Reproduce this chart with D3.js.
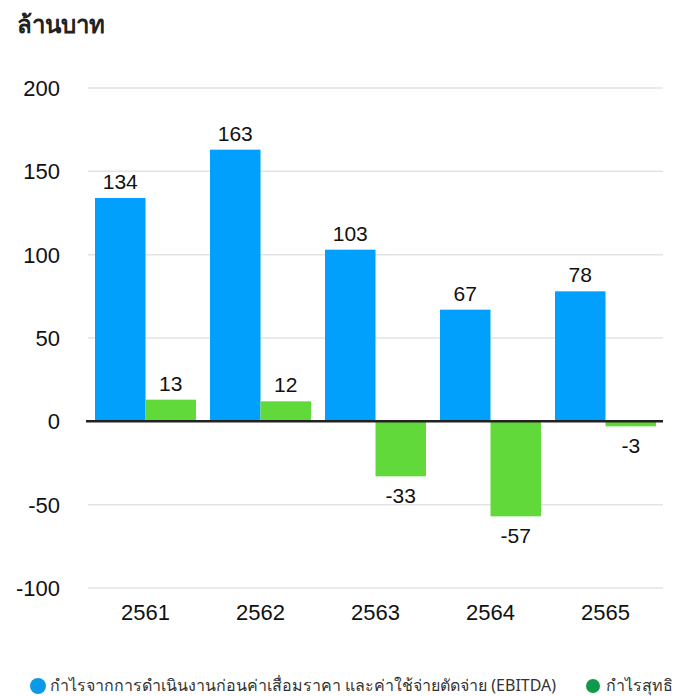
<!DOCTYPE html>
<html><head><meta charset="utf-8">
<script src="https://cdn.jsdelivr.net/npm/d3@7"></script>
<style>body{margin:0;background:#fff;}svg{display:block;}</style>
</head><body>
<script>
const years = ["2561","2562","2563","2564","2565"];
const ebitda = [134,163,103,67,78];
const netProfit = [13,12,-33,-57,-3];
const seriesNames = ["กำไรจากการดำเนินงานก่อนค่าเสื่อมราคา และค่าใช้จ่ายตัดจ่าย (EBITDA)","กำไรสุทธิ"];
const yTicks = [200,150,100,50,0,-50,-100];
const barColors = ["#00a0fc","#62d93a"];
const legendColors = ["#0b9ae8","#0e9a48"];

const W=684,H=696;
const svg=d3.select("body").append("svg").attr("width",W).attr("height",H);
const font="Liberation Sans, Arial, sans-serif";
const y=d3.scaleLinear().domain([-100,200]).range([588,88]);
const x0=d3.scaleBand().domain(years).range([88,663]);
const x1=d3.scaleBand().domain([0,1]).range([7,x0.bandwidth()-7]);

svg.append("text").attr("x",17).attr("y",33).attr("font-family","Noto Sans, sans-serif")
  .attr("font-weight","bold").attr("font-size",24).attr("fill","#222").text("ล้านบาท");

// grid
svg.append("g").selectAll("line").data(yTicks.filter(d=>d!==0)).join("line")
  .attr("x1",88).attr("x2",663).attr("y1",d=>y(d)).attr("y2",d=>y(d))
  .attr("stroke","#e3e3e3").attr("stroke-width",1.5);

// y labels
svg.append("g").selectAll("text").data(yTicks).join("text")
  .attr("x",60).attr("y",d=>y(d)+8).attr("text-anchor","end")
  .attr("font-family",font).attr("font-size",22).attr("fill","#111").text(d=>d);

const data=years.map((yr,i)=>({yr,vals:[ebitda[i],netProfit[i]]}));
const g=svg.append("g").selectAll("g").data(data).join("g").attr("transform",d=>`translate(${x0(d.yr)},0)`);
g.selectAll("rect").data(d=>d.vals.map((v,k)=>({v,k}))).join("rect")
  .attr("x",d=>x1(d.k)).attr("width",x1.bandwidth())
  .attr("y",d=>y(Math.max(0,d.v))).attr("height",d=>Math.abs(y(d.v)-y(0)))
  .attr("fill",d=>barColors[d.k]);
g.selectAll("text").data(d=>d.vals.map((v,k)=>({v,k}))).join("text")
  .attr("x",d=>x1(d.k)+x1.bandwidth()/2)
  .attr("y",d=>d.v>=0?y(d.v)-9:y(d.v)+27)
  .attr("text-anchor","middle").attr("font-family",font).attr("font-size",21).attr("fill","#111")
  .text(d=>d.v);

// zero line
svg.append("line").attr("x1",86).attr("x2",663).attr("y1",y(0)).attr("y2",y(0))
  .attr("stroke","#222").attr("stroke-width",2.5);

// x labels
svg.append("g").selectAll("text").data(years).join("text")
  .attr("x",d=>x0(d)+x0.bandwidth()/2).attr("y",620).attr("text-anchor","middle")
  .attr("font-family",font).attr("font-size",22).attr("fill","#111").text(d=>d);

// legend
const leg=[{x:38,tx:50,r:8},{x:593,tx:606,r:7}];
seriesNames.forEach((n,i)=>{
  svg.append("circle").attr("cx",leg[i].x).attr("cy",686).attr("r",leg[i].r).attr("fill",legendColors[i]);
  svg.append("text").attr("x",leg[i].tx).attr("y",691).attr("font-family","Noto Sans, sans-serif")
    .attr("font-size",16).attr("fill","#333").text(n);
});
</script>
</body></html>
